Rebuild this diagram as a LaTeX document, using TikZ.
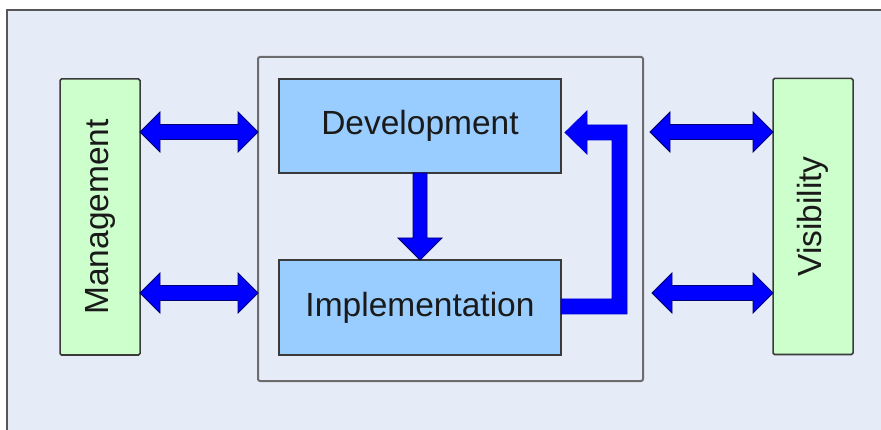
\documentclass[tikz,border=0pt]{standalone}
\usepackage{fontspec}
\setmainfont{Liberation Sans}
\usetikzlibrary{calc}
\definecolor{bg}{HTML}{E6ECF7}
\definecolor{grn}{HTML}{CCFFCC}
\definecolor{lblue}{HTML}{99CCFF}
\definecolor{arrblue}{HTML}{0000FF}
\definecolor{edge}{HTML}{3A3A3A}
\definecolor{txt}{HTML}{1A1A1A}
\newcommand\dbarrow[2]{%
  \draw[arr] let \p1=#1, \p2=#2 in
    (\x1,\y1) -- (\x1+20pt,\y1+20pt) -- (\x1+20pt,\y1+7.5pt) -- (\x2-20pt,\y1+7.5pt)
    -- (\x2-20pt,\y1+20pt) -- (\x2,\y1) -- (\x2-20pt,\y1-20pt) -- (\x2-20pt,\y1-7.5pt)
    -- (\x1+20pt,\y1-7.5pt) -- (\x1+20pt,\y1-20pt) -- cycle;}
\begin{document}
\begin{tikzpicture}[x=1pt,y=-1pt,
  box/.style={draw=edge, line width=1.5pt, inner sep=0pt, outer sep=0pt},
  sidebox/.style={box, fill=grn, rounded corners=1.5pt, minimum width=80pt, minimum height=276pt},
  bluebox/.style={box, fill=lblue, minimum width=282pt, minimum height=95pt,
    font=\fontsize{33.5}{40}\selectfont, text=txt},
  sidelabel/.style={rotate=90, font=\fontsize{33.5}{40}\selectfont, text=txt, inner sep=0pt},
  arr/.style={fill=arrblue, draw=black!55!blue, line width=0.8pt, line join=miter}]
\useasboundingbox (0,0) rectangle (881,430);
\fill[bg] (7,10) rectangle (895,445);
\draw[edge!85, line width=1.8pt] (7,445) -- (7,10) -- (895,10);
% container
\node[draw=gray!85!black, line width=2pt, rounded corners=2pt, minimum width=385pt,
  minimum height=324pt, inner sep=0pt, outer sep=0pt] (cont) at (450.5,219) {};
% side boxes
\node[sidebox] (mgmt) at (100,217) {};
\node[sidelabel] (mgmtlabel) at (mgmt.center) {Management};
\node[sidebox] (vis) at (813,216.5) {};
\node[sidelabel] (vislabel) at (vis.center) {Visibility};
% inner boxes
\node[bluebox, minimum height=94pt] (dev) at (420,126) {Development};
\node[bluebox] (impl) at (420,307.5) {Implementation};
% double arrows
\dbarrow{(mgmt.east |- 0,132)}{(cont.west |- 0,132)}
\dbarrow{(mgmt.east |- 0,293)}{(cont.west |- 0,293)}
\dbarrow{($(cont.east |- 0,132)+(7,0)$)}{(vis.west |- 0,132)}
\dbarrow{($(cont.east |- 0,293)+(9,0)$)}{(vis.west |- 0,293)}
% down arrow dev -> impl
\draw[arr] let \p1=(dev.south), \p2=(impl.north) in
  (\x1-7pt,\y1) -- (\x1+7pt,\y1) -- (\x1+7pt,\y2+22pt) -- (\x1+22pt,\y2+22pt)
  -- (\x2,\y2) -- (\x1-22pt,\y2+22pt) -- (\x1-7pt,\y2+22pt) -- cycle;
% loop arrow impl -> dev
\draw[arr, draw=arrblue!85!black] let \p1=(impl.east), \p2=(dev.east) in
  (\x1,\y1+8.5pt) -- (\x1+51pt,\y1+8.5pt) -- (\x1+51pt,\y2-14pt) -- (\x1+26pt,\y2-14pt)
  -- (\x1+26pt,\y2-28pt) -- (\x2+4pt,\y2-6.5pt) -- (\x1+26pt,\y2+15pt)
  -- (\x1+26pt,\y2+1pt) -- (\x1+66pt,\y2+1pt) -- (\x1+66pt,\y1-6.5pt) -- (\x1,\y1-6.5pt) -- cycle;
\end{tikzpicture}
\end{document}
